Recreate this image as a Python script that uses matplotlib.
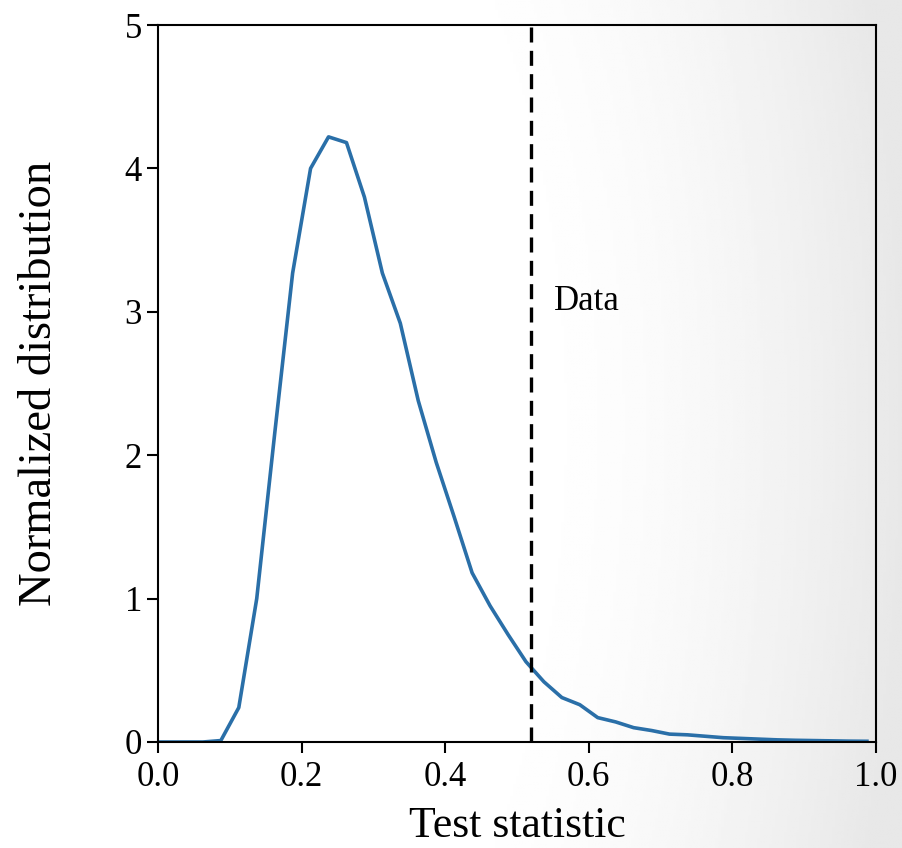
#!/usr/bin/env python3
import numpy as np
import matplotlib
matplotlib.use('Agg')
import matplotlib.pyplot as plt

plt.rcParams['font.family'] = ['Liberation Serif', 'DejaVu Serif']

# distribution of the test statistic
test_stat = [0.0, 0.0625, 0.0875, 0.1125, 0.1375, 0.1625, 0.1875, 0.2125,
             0.2375, 0.2625, 0.2875, 0.3125, 0.3375, 0.3625, 0.3875, 0.4125,
             0.4375, 0.4625, 0.4875, 0.5125, 0.5375, 0.5625, 0.5875, 0.6125,
             0.6375, 0.6625, 0.6875, 0.7125, 0.7375, 0.7625, 0.7875, 0.8125,
             0.8375, 0.8625, 0.8875, 0.9125, 0.9375, 0.9625, 0.9875]
norm_dist = [0.0, 0.0, 0.01, 0.24, 1.0, 2.15, 3.27, 4.0,
             4.22, 4.18, 3.8, 3.27, 2.92, 2.38, 1.95, 1.57,
             1.18, 0.95, 0.75, 0.56, 0.42, 0.31, 0.26, 0.17,
             0.14, 0.10, 0.08, 0.055, 0.05, 0.04, 0.03, 0.025,
             0.02, 0.015, 0.012, 0.01, 0.008, 0.006, 0.005]
data_value = 0.52
xticks = [0.0, 0.2, 0.4, 0.6, 0.8, 1.0]
yticks = [0, 1, 2, 3, 4, 5]


def main():
    fig = plt.figure(figsize=(9.03, 8.48), dpi=100)

    # soft grey shading towards the right edge, as in the screenshot
    bg = fig.add_axes([0, 0, 1, 1], zorder=-10)
    gx, gy = np.meshgrid(np.linspace(0, 1, 300), np.linspace(0, 1, 300))
    r = np.sqrt(((gx - 0.2) / 0.8) ** 2 + ((gy - 0.5) / 1.6) ** 2)
    shade = 1.0 - 0.09 * np.clip((r - 0.45) / 0.55, 0, 1) ** 1.7
    bg.imshow(shade, cmap='gray', vmin=0, vmax=1, extent=[0, 1, 0, 1],
              aspect='auto', origin='upper')
    bg.axis('off')

    ax = fig.add_axes([0.175, 0.125, 0.795, 0.8455])
    ax.set_facecolor('none')
    ax.plot(test_stat, norm_dist, color='#2a6fa8', lw=2.6)
    ax.axvline(data_value, color='black', ls=(0, (4.5, 2.5)), lw=2.4)
    ax.text(data_value + 0.031, 3.07, 'Data', fontsize=25, va='center', ha='left')

    ax.set_xlim(0, 1)
    ax.set_ylim(0, 5)
    ax.set_xticks(xticks)
    ax.set_yticks(yticks)
    ax.set_xticklabels(['%.1f' % t for t in xticks])
    ax.tick_params(labelsize=25, length=8, width=1.5, direction='out')
    ax.tick_params(axis='x', pad=6)
    for sp in ax.spines.values():
        sp.set_linewidth(1.5)
    ax.set_xlabel('Test statistic', fontsize=31.5, labelpad=8)
    ax.set_ylabel('Normalized distribution', fontsize=33.5, labelpad=46)

    fig.savefig('out.png', dpi=100)


if __name__ == '__main__':
    main()
